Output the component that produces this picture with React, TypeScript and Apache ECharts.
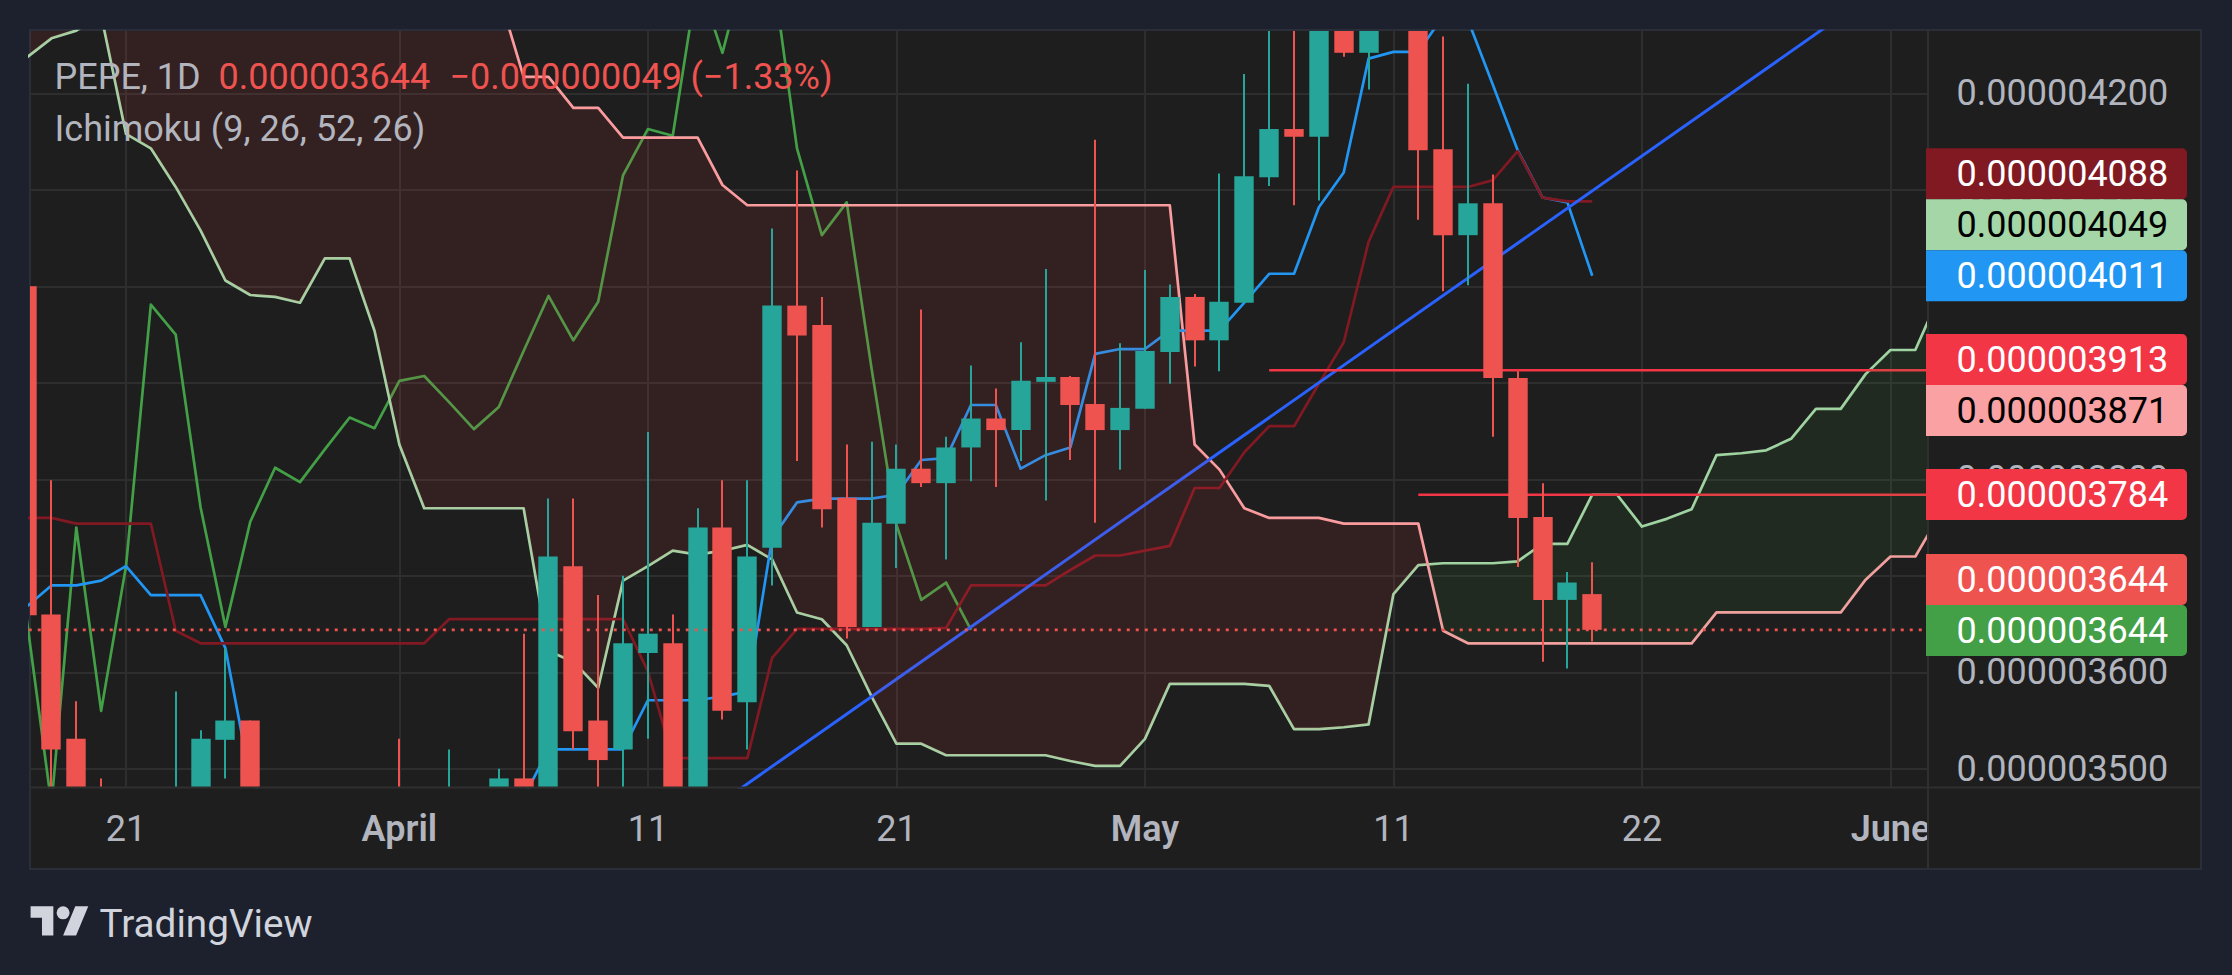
import React, { useEffect, useRef } from "react";
import * as echarts from "echarts";

const PRICE_UNIT = 1e-9; // arrays below are in units of 0.000000001

const opens = [4000,3660,3531,3465,3450,3440,3450,3470,3530,3550,3460,3450,3445,3450,3440,3445,3435,3440,3450,3470,3490,3470,3710,3550,3520,3620,3630,3470,3750,3569,3729,3980,3960,3781,3647,3754,3811,3796,3833,3863,3851,3901,3906,3878,3851,3873,3932,3989,3944,3983,4113,4163,4155,4290,4242,4285,4300,4142,4053,4086,3905,3761,3675,3681];
const closes = [3659,3520,3470,3450,3440,3450,3470,3531,3550,3470,3450,3445,3450,3440,3445,3435,3440,3450,3470,3490,3470,3720,3539,3509,3630,3640,3470,3750,3560,3720,3980,3949,3769,3647,3755,3811,3796,3833,3863,3851,3902,3906,3877,3851,3874,3933,3989,3944,3984,4114,4163,4155,4290,4242,4285,4300,4141,4053,4086,3905,3760,3675,3693,3644];
const lows = [3650,3470,3460,3440,3430,3430,3440,3460,3490,3460,3440,3430,3430,3430,3430,3425,3425,3430,3440,3460,3460,3460,3520,3470,3470,3531,3460,3460,3551,3520,3690,3819,3750,3635,3647,3708,3792,3717,3798,3792,3819,3778,3820,3755,3810,3873,3899,3917,3912,3983,4104,4084,4089,4238,4204,4270,4069,3995,4001,3844,3709,3611,3604,3632];
const highs = [4000,3799,3570,3490,3470,3465,3580,3540,3625,3550,3475,3470,3470,3465,3470,3531,3470,3520,3475,3500,3640,3780,3780,3680,3700,3849,3660,3770,3799,3799,4060,4120,3989,3836,3839,3836,3976,3844,3918,3894,3942,4018,3907,4152,3941,4017,4002,3992,4117,4220,4300,4300,4310,4320,4310,4320,4320,4259,4210,4116,3912,3796,3704,3714];

const conversionLine = [3668,3690,3690,3695,3710,3680,3680,3680,3625,3490,3450,3450,3450,3450,3450,3450,3450,3450,3450,3450,3470,3520,3520,3520,3520,3571,3571,3571,3575,3580,3739,3776,3780,3780,3780,3784,3820,3822,3877,3877,3811,3825,3833,3930,3935,3935,3954,3954,3954,3983,4013,4013,4082,4118,4236,4243,4243,4280,4276,4209,4141,4092,4087,4011];
const baseLine = [3760,3760,3754,3754,3754,3754,3643,3630,3630,3630,3630,3630,3630,3630,3630,3630,3630,3655,3655,3655,3655,3655,3655,3655,3655,3601,3511,3511,3511,3511,3615,3645,3645,3645,3645,3645,3645,3646,3690,3690,3690,3690,3706,3721,3721,3726,3731,3791,3791,3828,3855,3855,3899,3942,4046,4103,4103,4103,4103,4110,4140,4092,4088,4088];
const laggingSpan = [3656,3463,3750,3560,3710,3981,3950,3771,3647,3756,3812,3797,3831,3864,3853,3902,3907,3880,3852,3875,3933,3990,3944,3984,4115,4163,4156,4319,4242,4340,4330,4143,4053,4087,3915,3753,3675,3693,3644];
const leadingA = [4237,4257,4265,4281,4158,4143,4103,4058,4006,3991,3989,3983,4029,4029,3954,3836,3770,3770,3770,3770,3770,3622,3611,3584,3695,3710,3726,3722,3726,3732,3717,3662,3655,3628,3575,3526,3526,3514,3514,3514,3514,3514,3508,3503,3503,3531,3588,3588,3588,3588,3586,3541,3541,3543,3546,3681,3711,3713,3713,3713,3715,3733,3733,3784,3784,3751,3759,3769,3825,3827,3830,3842,3873,3873,3909,3934,3934,3992];
const leadingB = [4320,4320,4320,4320,4320,4320,4320,4320,4320,4320,4320,4320,4320,4320,4320,4320,4320,4320,4320,4303,4217,4217,4185,4185,4154,4154,4154,4154,4105,4084,4084,4084,4084,4084,4084,4084,4084,4084,4084,4084,4084,4084,4084,4084,4084,4084,4084,3836,3810,3770,3760,3760,3760,3754,3754,3754,3754,3643,3630,3630,3630,3630,3630,3630,3630,3630,3630,3630,3662,3662,3662,3662,3662,3662,3696,3720,3720,3764];

const trendFrom = [28, 3466.3];
const trendTo = [73, 4279.7];
const levelUpper = { start: 50, price: 3913 };
const levelLower = { start: 56, price: 3784 };
const lastPrice = 3644;

const xTickIndex = [4, 15, 25, 35, 45, 55, 65, 75];
const xTickLabels = ["21", "April", "11", "21", "May", "11", "22", "June"];
const xTickBold = ["April", "May", "June"];
const yTickValues = [3500, 3600, 3700, 3800, 3900, 4000, 4100, 4200];

const tagLabels = ["0.000004088", "0.000004049", "0.000004011", "0.000003913", "0.000003871", "0.000003784", "0.000003644", "0.000003644"];
const tagFills = ["#801922", "#A5D6A7", "#2196F3", "#F23645", "#FAA1A4", "#F23645", "#EF5350", "#43A047"];
const tagInks = ["#FFFFFF", "#000000", "#FFFFFF", "#FFFFFF", "#000000", "#FFFFFF", "#FFFFFF", "#FFFFFF"];
const tagTops = [148.3, 199.3, 250.3, 334, 385, 469, 554, 605];

const LOGO_PATH = "M14 22H7V11H0V4h14v18zM28 22h-8l7.5-18h8L28 22zM24 8a4 4 0 1 1-8 0a4 4 0 1 1 8 0z";
echarts.graphic.registerShape("tvLogo", echarts.graphic.extendPath(LOGO_PATH, {}) as any);

const FONT = "Roboto";
const FS = 36;
const PAGE = "#1C212D";
const PANEL = "#1E1E1E";
const RULE = "#2E2E2E";
const MUTED = "#B2B5BE";
const UP = "#26A69A";
const DOWN = "#EF5350";

const pairs = (arr: number[]) => arr.map((v, i) => [i, v]);

function cloudRegions() {
  // Splits the band between the two leading spans wherever they cross.
  const regions: { up: boolean; a: number[][]; b: number[][] }[] = [];
  let cur: { up: boolean; a: number[][]; b: number[][] } | null = null;
  for (let i = 0; i < leadingA.length; i++) {
    const up = leadingA[i] >= leadingB[i];
    if (!cur) {
      cur = { up, a: [], b: [] };
      regions.push(cur);
    } else if (cur.up !== up) {
      const d0 = leadingA[i - 1] - leadingB[i - 1];
      const d1 = leadingA[i] - leadingB[i];
      const t = d0 / (d0 - d1);
      const cross = [i - 1 + t, leadingA[i - 1] + t * (leadingA[i] - leadingA[i - 1])];
      cur.a.push(cross);
      cur.b.push(cross);
      cur = { up, a: [cross], b: [cross] };
      regions.push(cur);
    }
    cur.a.push([i, leadingA[i]]);
    cur.b.push([i, leadingB[i]]);
  }
  return regions;
}

export default function App() {
  const ref = useRef<HTMLDivElement>(null);
  useEffect(() => {
    document.body.style.margin = "0";
    document.body.style.background = PAGE;
    const chart = echarts.init(ref.current!, undefined, { renderer: "svg" });

    const line = (name: string, data: number[][], color: string, z = 2, width = 2.7) => ({
      name,
      type: "line",
      data,
      z,
      showSymbol: false,
      symbol: "none",
      silent: true,
      lineStyle: { color, width, join: "round" },
    });

    const tagElements: any[] = [];
    tagLabels.forEach((label, k) => {
      tagElements.push({
        type: "rect",
        z: 60,
        shape: { x: 1926, y: tagTops[k], width: 261, height: 51, r: [0, 5, 5, 0] },
        style: { fill: tagFills[k] },
      });
      tagElements.push({
        type: "text",
        z: 61,
        x: 1956.5,
        y: tagTops[k] + 26,
        style: { text: label, fill: tagInks[k], font: `${FS}px ${FONT}`, textVerticalAlign: "middle" },
      });
    });

    const legendText = (text: string, x: number, y: number, fill: string) => ({
      type: "text",
      z: 30,
      x,
      y,
      style: { text, fill, font: `${FS}px ${FONT}`, textVerticalAlign: "bottom" },
    });

    chart.setOption({
      animation: false,
      backgroundColor: PAGE,
      grid: { left: 30, right: 305, top: 31, height: 756, containLabel: false },
      xAxis: {
        type: "value",
        min: 0.137,
        max: 76.47,
        axisLine: { show: false },
        axisTick: { show: false, customValues: xTickIndex },
        splitLine: { show: true, lineStyle: { color: RULE, width: 2 } },
        axisLabel: {
          customValues: xTickIndex,
          margin: 24,
          color: MUTED,
          fontFamily: FONT,
          fontSize: FS,
          hideOverlap: false,
          formatter: (v: number) => {
            const s = xTickLabels[xTickIndex.indexOf(v)] ?? "";
            return xTickBold.includes(s) ? `{b|${s}}` : s;
          },
          rich: { b: { fontWeight: 600, fontFamily: FONT, fontSize: FS, color: MUTED } },
        },
      },
      yAxis: {
        type: "value",
        position: "right",
        min: 3481.1,
        max: 4264.6,
        axisLine: { show: false },
        axisTick: { show: false, customValues: yTickValues },
        splitLine: { show: true, lineStyle: { color: RULE, width: 2 } },
        axisLabel: {
          customValues: yTickValues,
          margin: 29.5,
          color: MUTED,
          fontFamily: FONT,
          fontSize: FS,
          formatter: (v: number) => (v * PRICE_UNIT).toFixed(9),
        },
      },
      series: [
        line("Lagging Span", pairs(laggingSpan), "#43A047"),
        line("Leading Span A", pairs(leadingA), "#A5D6A7"),
        line("Leading Span B", pairs(leadingB), "#FAA1A4"),
        line("Conversion Line", pairs(conversionLine), "#2196F3", 2),
        line("Base Line", pairs(baseLine), "#801922", 3),
        line("Trend", [trendFrom, trendTo], "#2962FF", 3, 3),
        line("Level upper", [[levelUpper.start, levelUpper.price], [80, levelUpper.price]], "#F23645", 3),
        line("Level lower", [[levelLower.start, levelLower.price], [80, levelLower.price]], "#F23645", 3),
        {
          type: "custom",
          name: "Cloud",
          coordinateSystem: "cartesian2d",
          clip: true,
          silent: true,
          z: 4,
          data: [[0, leadingA[0]]],
          encode: { x: 0, y: 1 },
          renderItem: (_p: any, api: any) => ({
            type: "group",
            children: cloudRegions().map((r) => ({
              type: "polygon",
              shape: { points: [...r.a, ...[...r.b].reverse()].map((pt) => api.coord(pt)) },
              style: { fill: r.up ? "rgba(67,160,71,0.1)" : "rgba(242,54,69,0.1)", stroke: "none" },
            })),
          }),
        },
        {
          type: "custom",
          name: "PEPE",
          coordinateSystem: "cartesian2d",
          clip: true,
          silent: true,
          z: 5,
          encode: { x: 0, y: [1, 2, 3, 4] },
          data: opens.map((o, i) => [i, o, closes[i], lows[i], highs[i]]),
          renderItem: (_p: any, api: any) => {
            const i = api.value(0);
            const o = api.value(1);
            const c = api.value(2);
            const [x, yO] = api.coord([i, o]);
            const yC = api.coord([i, c])[1];
            const yL = api.coord([i, api.value(3)])[1];
            const yH = api.coord([i, api.value(4)])[1];
            const fill = c >= o ? UP : DOWN;
            const cx = Math.round(x);
            return {
              type: "group",
              children: [
                { type: "rect", shape: { x: cx - 1, y: yH, width: 2, height: yL - yH }, style: { fill } },
                {
                  type: "rect",
                  shape: { x: cx - 9.7, y: Math.min(yO, yC), width: 19.4, height: Math.abs(yC - yO) },
                  style: { fill },
                },
              ],
            };
          },
        },
        {
          name: "Last price",
          type: "line",
          z: 6,
          symbol: "none",
          silent: true,
          data: [[-1, lastPrice], [80, lastPrice]],
          lineStyle: { color: DOWN, width: 2.7, type: [3, 6] },
        },
      ],
      graphic: {
        elements: [
          {
            type: "rect",
            z: -5,
            shape: { x: 30, y: 30, width: 2171, height: 839 },
            style: { fill: PANEL, stroke: "#2A2E39", lineWidth: 2 },
          },
          { type: "rect", z: 50, shape: { x: 1928, y: 788, width: 272, height: 80 }, style: { fill: PANEL } },
          { type: "line", z: 51, shape: { x1: 30, y1: 787.5, x2: 2201, y2: 787.5 }, style: { stroke: "#2F2F2F", lineWidth: 2 } },
          { type: "line", z: 51, shape: { x1: 1928, y1: 30, x2: 1928, y2: 869 }, style: { stroke: "#2F2F2F", lineWidth: 2 } },
          legendText("PEPE, 1D", 54.5, 95, MUTED),
          legendText("0.000003644", 218.5, 95, DOWN),
          legendText("\u22120.000000049", 449.5, 95, DOWN),
          legendText("(\u22121.33%)", 690.5, 95, DOWN),
          legendText("Ichimoku (9, 26, 52, 26)", 54.5, 147, MUTED),
          ...tagElements,
          {
            type: "tvLogo",
            z: 30,
            x: 30.6,
            y: 899.8,
            scaleX: 1.625,
            scaleY: 1.625,
            style: { fill: "#D1D4DC" },
          },
          {
            type: "text",
            z: 30,
            x: 99.5,
            y: 943,
            style: { text: "TradingView", fill: "#D1D4DC", font: `38.7px ${FONT}`, textVerticalAlign: "bottom" },
          },
        ],
      },
    });
    return () => chart.dispose();
  }, []);
  return <div ref={ref} style={{ width: 2232, height: 975 }} />;
}
